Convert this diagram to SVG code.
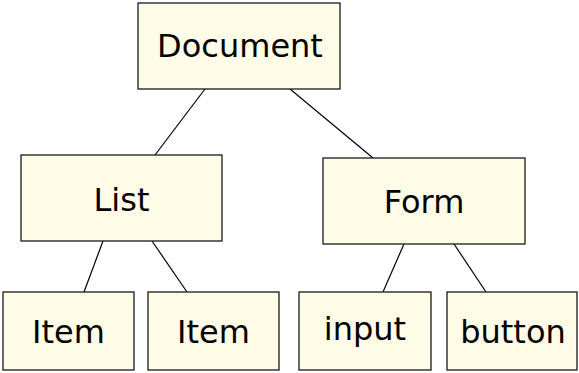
<svg xmlns="http://www.w3.org/2000/svg" width="579" height="373" viewBox="0 0 579 373">
<style>
.box{fill:#fefce6;stroke:#1a1a1a;stroke-width:1.3}
.lbl{font-family:"DejaVu Sans",sans-serif;font-size:32px;fill:#000;text-anchor:middle}
.edge{stroke:#000;stroke-width:1.2;fill:none}
</style>
<rect width="579" height="373" fill="#fff"/>
<g id="connectors">
<line class="edge" x1="205" y1="89" x2="155" y2="155"/>
<line class="edge" x1="290" y1="89" x2="373" y2="158"/>
<line class="edge" x1="103" y1="241" x2="84" y2="292"/>
<line class="edge" x1="152" y1="241" x2="187" y2="292"/>
<line class="edge" x1="404" y1="244" x2="383" y2="292"/>
<line class="edge" x1="454" y1="244" x2="486" y2="292"/>
</g>
<g id="document"><rect class="box" x="138" y="3" width="202" height="86"/><text class="lbl" x="240" y="57">Document</text></g>
<g id="list"><rect class="box" x="21" y="155" width="201" height="86"/><text class="lbl" x="121.5" y="211">List</text></g>
<g id="form"><rect class="box" x="323" y="158" width="202" height="86"/><text class="lbl" x="424" y="213">Form</text></g>
<g id="item1"><rect class="box" x="3" y="292" width="131" height="78"/><text class="lbl" x="68.5" y="343">Item</text></g>
<g id="item2"><rect class="box" x="148" y="292" width="131" height="78"/><text class="lbl" x="213.5" y="343">Item</text></g>
<g id="input"><rect class="box" x="299" y="292" width="132" height="78"/><text class="lbl" x="365" y="340">input</text></g>
<g id="button"><rect class="box" x="447" y="292" width="130" height="78"/><text class="lbl" x="513" y="343">button</text></g>
</svg>
